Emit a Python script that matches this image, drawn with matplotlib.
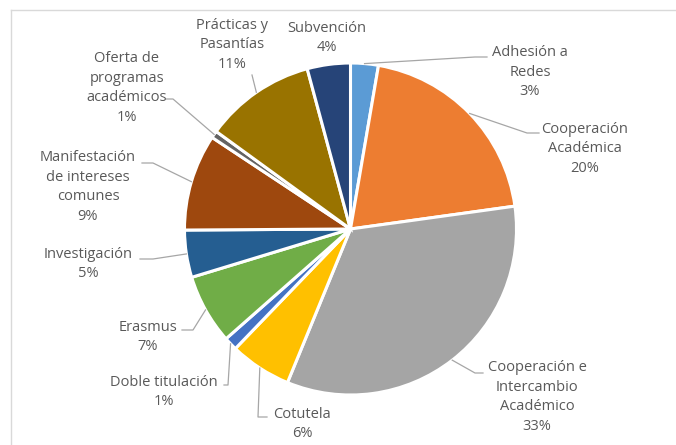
import matplotlib
matplotlib.use("Agg")
import matplotlib.pyplot as plt
from matplotlib.lines import Line2D
import numpy as np

categories = ["Adhesión a\nRedes", "Cooperación\nAcadémica", "Cooperación e\nIntercambio\nAcadémico",
              "Cotutela", "Doble titulación", "Erasmus", "Investigación",
              "Manifestación\nde intereses\ncomunes", "Oferta de\nprogramas\nacadémicos",
              "Prácticas y\nPasantías", "Subvención"]
values = [2.7, 20.1, 33.4, 6.0, 1.3, 6.8, 4.6, 9.4, 0.7, 10.8, 4.2]
colors = ["#5B9BD5", "#ED7D31", "#A5A5A5", "#FFC000", "#4472C4", "#70AD47",
          "#255E91", "#9E480E", "#636363", "#997300", "#264478"]

W, H = 676, 445
CX, CY, R = 350.5, 229.0, 166.0

# label block centres (pixels), leader elbow and anchor (pixels, None = no leader)
label_pos = [(530, 72), (585, 149), (537, 397), (302, 424), (164, 392), (148, 337),
             (88, 264), (88, 187), (127, 88), (232, 45), (327, 38)]
leaders = [[(475, 57), (487, 57)], [(527, 133), (539, 133)], [(475, 373), (483, 373)],
           [(258, 417), (267, 417)], [(228, 385), (224, 385)], [(193, 330), (182, 330)],
           [(153, 259), (140, 259)], [(153, 163), (142, 163)], [(173, 99), (166, 99)],
           [(252, 75), (252, 75)], None]

fig = plt.figure(figsize=(W / 100, H / 100), dpi=100)
ax = fig.add_axes([(CX - R) / W, (H - CY - R) / H, 2 * R / W, 2 * R / H])
ax.pie(values, colors=colors, startangle=90, counterclock=False, radius=1,
       wedgeprops=dict(edgecolor="white", linewidth=2.2))
ax.set_xlim(-1, 1)
ax.set_ylim(-1, 1)
ax.set_aspect("equal")
ax.axis("off")

def p2d(px, py):
    return (px - CX) / R, (CY - py) / R

total = sum(values)
cum = 0.0
for i, v in enumerate(values):
    mid = (cum + v / 2) / total * 360.0
    cum += v
    theta = np.deg2rad(90 - mid)
    ex, ey = np.cos(theta), np.sin(theta)
    lx, ly = p2d(*label_pos[i])
    ax.text(lx, ly, f"{categories[i]}\n{round(v):d}%", ha="center", va="center",
            fontsize=10.5, color="#595959", family="Open Sans", linespacing=1.41,
            clip_on=False)
    if leaders[i] is not None:
        pts = [(ex, ey)] + [p2d(*p) for p in leaders[i]]
        xs, ys = zip(*pts)
        ax.add_line(Line2D(xs, ys, color="#A6A6A6", lw=0.9, clip_on=False))

# chart-area border
fig.add_artist(Line2D([11 / W, 1], [1 - 10 / H, 1 - 10 / H], color="#D9D9D9", lw=1))
fig.add_artist(Line2D([11 / W, 11 / W], [1 - 10 / H, 0], color="#D9D9D9", lw=1))

fig.savefig("out.png", dpi=100)
